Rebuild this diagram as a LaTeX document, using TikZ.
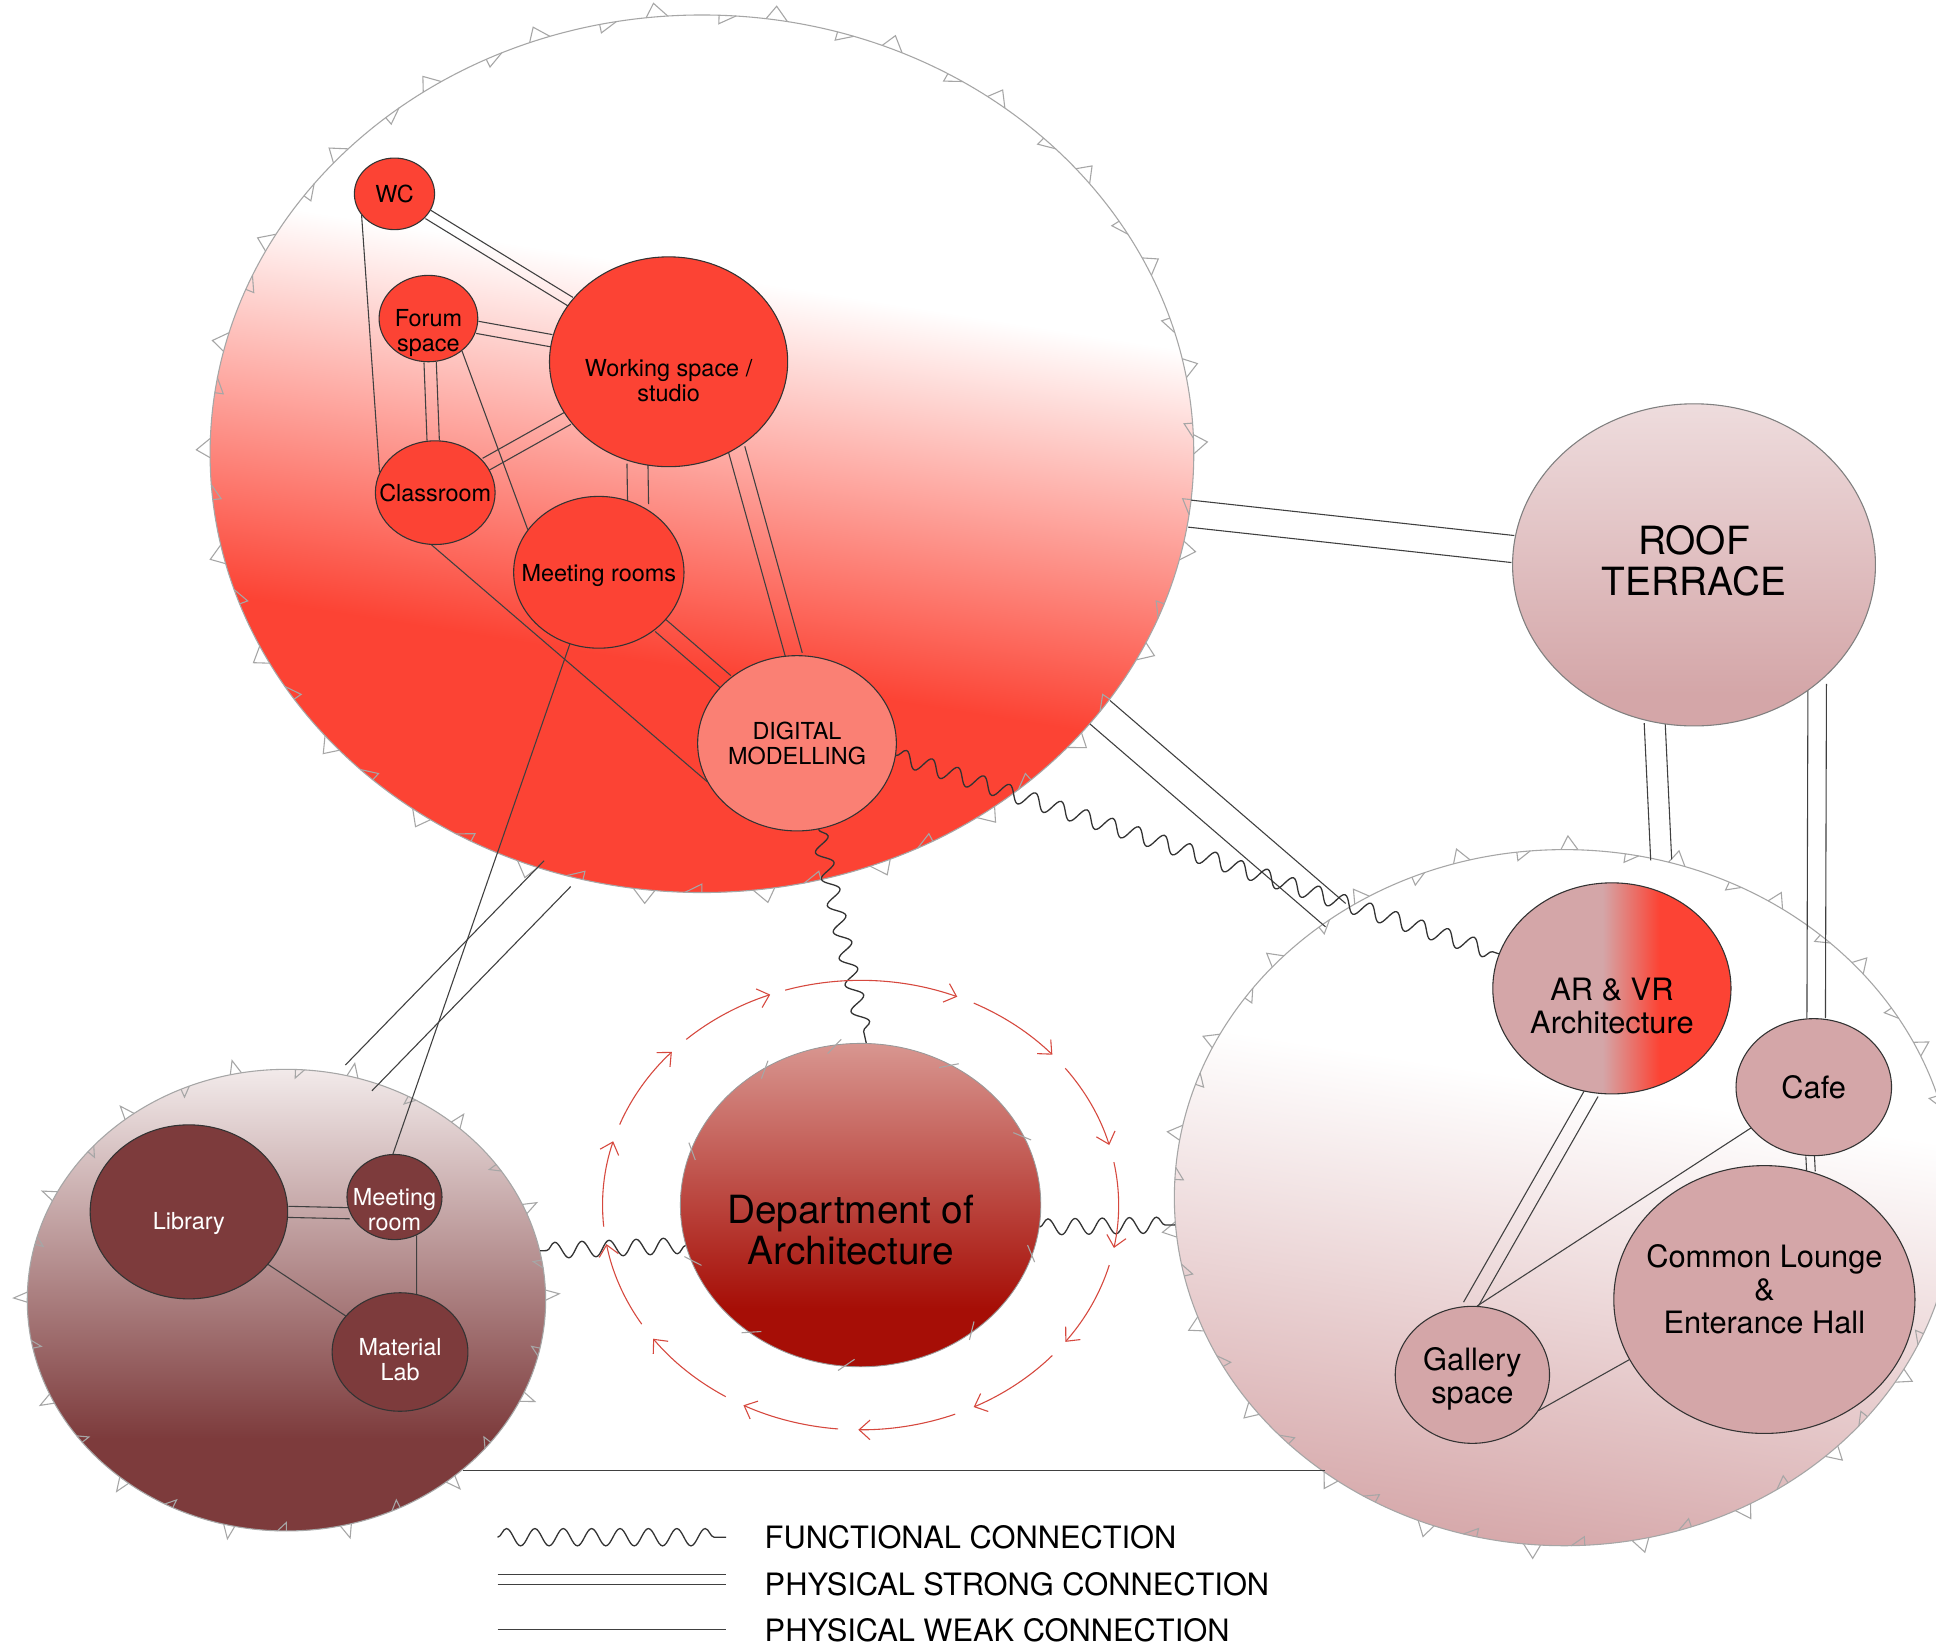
\documentclass[tikz,border=0pt]{standalone}
\usepackage{fontspec}
\setmainfont{TeX Gyre Heros}
\usetikzlibrary{shapes.geometric,calc,decorations.pathmorphing,decorations.pathreplacing,arrows.meta}

\definecolor{roomred}{RGB}{252,67,52}
\definecolor{dmpink}{RGB}{250,128,116}
\definecolor{pinkroom}{RGB}{212,166,168}
\definecolor{rooftop}{RGB}{238,220,221}
\definecolor{clpink}{RGB}{214,168,170}
\definecolor{libmaroon}{RGB}{125,59,60}
\definecolor{libtop}{RGB}{242,234,234}
\definecolor{deptdark}{RGB}{166,14,6}
\definecolor{depttop}{RGB}{216,150,144}
\definecolor{ringred}{RGB}{214,72,62}

\pgfdeclareverticalshading{redfade}{100bp}{color(0bp)=(roomred); color(38bp)=(roomred); color(60bp)=(white); color(100bp)=(white)}
\pgfdeclareverticalshading{pinkfade}{100bp}{color(0bp)=(clpink); color(25bp)=(clpink); color(58bp)=(white); color(100bp)=(white)}
\pgfdeclareverticalshading{libfade}{100bp}{color(0bp)=(libmaroon); color(35bp)=(libmaroon); color(75bp)=(libtop); color(100bp)=(libtop)}
\pgfdeclareverticalshading{deptfade}{100bp}{color(0bp)=(deptdark); color(34bp)=(deptdark); color(75bp)=(depttop); color(100bp)=(depttop)}
\pgfdeclareverticalshading{rooffade}{100bp}{color(0bp)=(pinkroom); color(30bp)=(pinkroom); color(75bp)=(rooftop); color(100bp)=(rooftop)}
\pgfdeclarehorizontalshading{arvrfade}{100bp}{color(0bp)=(pinkroom); color(48bp)=(pinkroom); color(60bp)=(roomred); color(100bp)=(roomred)}

\pgfdeclarelayer{bg}
\pgfdeclarelayer{mid}
\pgfsetlayers{bg,mid,main}

\tikzset{
  radii/.style 2 args={minimum width=#1*0.04cm, minimum height=#2*0.04cm},
  cluster/.style={ellipse, draw=black!35, line width=0.5pt, inner sep=0pt, shade},
  room/.style={ellipse, draw=black!80, line width=0.5pt, inner sep=0pt, fill=roomred},
  pub/.style={room, fill=pinkroom},
  lib/.style={room, fill=libmaroon},
  roomtxt/.style={font=\fontsize{10.8}{11.6}\selectfont, align=center, inner sep=0pt},
  hubtxt/.style={font=\fontsize{14.2}{15.2}\selectfont, align=center, inner sep=0pt},
  bigtxt/.style={font=\fontsize{17.9}{19}\selectfont, align=center, inner sep=0pt},
  legtxt/.style={font=\fontsize{14.2}{15.2}\selectfont, inner sep=0pt, anchor=west},
  notch/.style={draw=black!35, line width=0.5pt},
  weak/.style={draw=black!75, line width=0.5pt},
  strong/.style={decorate, decoration={show path construction, lineto code={
      \draw[weak] ($(\tikzinputsegmentfirst)!#1!90:(\tikzinputsegmentlast)$) -- ($(\tikzinputsegmentlast)!#1!-90:(\tikzinputsegmentfirst)$);
      \draw[weak] ($(\tikzinputsegmentfirst)!#1!-90:(\tikzinputsegmentlast)$) -- ($(\tikzinputsegmentlast)!#1!90:(\tikzinputsegmentfirst)$);}}},
  strong/.default=0.09cm,
  func/.style={draw=black!80, line width=0.6pt, decorate, decoration={snake, amplitude=0.13cm, segment length=0.44cm}},
  ring/.style={draw=ringred, line width=0.5pt, -{Straight Barb[length=5pt,width=9pt]}}
}

% small spikes and steps on the zone outlines
\newcommand{\notches}[4]{%
  \foreach \a in {0,#4,...,359}{
    \draw[notch] ($(#1)+(\a-2.5:#2 and #3)$) -- ($(#1)+(\a-1.5:#2+11 and #3+11)$) -- ($(#1)+(\a:#2 and #3)$);
    \draw[notch] ($(#1)+(\a+0.5*#4-1:#2 and #3)$) -- ($(#1)+(\a+0.5*#4-1:#2-7 and #3-7)$) -- ($(#1)+(\a+0.5*#4+1:#2 and #3)$);}}

\begin{document}
\begin{tikzpicture}[x=0.02cm, y=-0.02cm]
  \useasboundingbox (0,0) rectangle (1568,1332);
  % zones
  \begin{pgfonlayer}{bg}
    \fill[white] (0,0) rectangle (1568,1332);
    \node[cluster, radii={398.5}{355.5}, shading=redfade, shading angle=-9] (rc) at (568.5,367.5) {};
    \node[cluster, radii={316}{282}, shading=pinkfade, shading angle=-9] (xc) at (1267,970) {};
    \node[cluster, radii={210}{187}, shading=libfade] (lc) at (232,1053) {};
    \notches{rc}{398.5}{355.5}{14}
    \notches{xc}{316}{282}{16}
    \notches{lc}{210}{187}{26}
  \end{pgfonlayer}
  % studio wing
  \node[room, radii={32.5}{29}, label={[roomtxt]center:WC}] (wc) at (319.5,157) {};
  \node[room, radii={40}{35}, label={[roomtxt, yshift=-0.24cm]center:Forum\\space}] (forum) at (347,258) {};
  \node[room, radii={96.5}{85}, label={[roomtxt, yshift=-0.3cm]center:Working space /\\studio}] (studio) at (541.5,293) {};
  \node[room, radii={48.5}{42}, label={[roomtxt]center:Classroom}] (class) at (352.5,399) {};
  \node[room, radii={69}{61.5}, label={[roomtxt, yshift=-0.05cm]center:Meeting rooms}] (meet) at (485,463.5) {};
  \node[room, fill=dmpink, radii={80.5}{71}, label={[roomtxt]center:DIGITAL\\MODELLING}] (dm) at (645.5,602) {};
  % roof and public wing
  \node[pub, draw=black!50, shade, shading=rooffade, radii={147}{130.5}, label={[bigtxt, yshift=0.07cm]center:ROOF\\TERRACE}] (roof) at (1372,457.5) {};
  \node[pub, shade, shading=arvrfade, radii={96.5}{85.5}, label={[hubtxt, yshift=-0.28cm]center:AR \& VR\\Architecture}] (arvr) at (1305.5,800.5) {};
  \node[pub, radii={63}{55.5}, label={[hubtxt]center:Cafe}] (cafe) at (1469,880.5) {};
  \node[pub, radii={122}{108.5}, label={[hubtxt, yshift=0.16cm]center:Common Lounge\\\&\\Enterance Hall}] (lounge) at (1429,1052.5) {};
  \node[pub, radii={62.5}{55.5}, label={[hubtxt, yshift=-0.06cm]center:Gallery\\space}] (gallery) at (1192.5,1113.5) {};
  % library wing
  \node[lib, radii={80}{70.5}, label={[roomtxt, text=white, yshift=-0.19cm]center:Library}] (library) at (153,981.5) {};
  \node[lib, radii={38.5}{34.5}, label={[roomtxt, text=white, yshift=-0.2cm]center:Meeting\\room}] (mroom) at (319.5,969.5) {};
  \node[lib, radii={55}{48}, label={[roomtxt, text=white, yshift=-0.12cm]center:Material\\Lab}] (lab) at (324,1095) {};
  % department
  \node[ellipse, inner sep=0pt, draw=black!40, shade, shading=deptfade, radii={146}{131}, label={[bigtxt, xshift=-0.16cm, yshift=-0.4cm]center:Department of\\Architecture}] (dept) at (697,976) {};
  \foreach \a in {18,52,95,128,160,200,238,262,300,335}
    \draw[notch] ($(dept)+(\a-3:140 and 125)$) -- ($(dept)+(\a+2:150 and 135)$);
  \begin{pgfonlayer}{mid}
    % physical strong
    \path[strong=0.08cm] (wc) -- (studio);
    \path[strong=0.1cm] (forum) -- (studio);
    \path[strong=0.1cm] (forum) -- (class);
    \path[strong=0.11cm] (class) -- (studio);
    \path[strong=0.17cm] (studio.253.1) -- (meet.60.1);
    \path[strong=0.14cm] (studio.-52.7) -- (dm.92);
    \path[strong=0.13cm] (meet) -- (dm);
    \path[strong=0.22cm] (rc.-7.3) -- (roof.175.7);
    \path[strong=0.3cm] (rc.251.8) -- (lc.72);
    \path[strong=0.25cm] (rc.-33.1) -- (xc.129.8);
    \path[strong=0.17cm] (roof.256.6) -- (xc.74.8);
    \path[strong=0.15cm] (roof.-44.5) -- (cafe.88.6);
    \path[strong=0.07cm] (cafe.267.4) -- (lounge.70);
    \path[strong=0.12cm] (arvr.259.6) -- (gallery.92.6);
    \path[strong=0.09cm] (library.0) -- (mroom.200);
    % physical weak
    \draw[weak] (wc.213) -- (class.160);
    \draw[weak] (forum.-44) -- (meet.149.6);
    \draw[weak] (class.266.6) -- (dm.203);
    \draw[weak] (meet.248.4) -- (mroom.92.5);
    \draw[weak] (cafe.213.3) -- (gallery.86.3);
    \draw[weak] (gallery.-28) -- (lounge.204.4);
    \draw[weak] (library) -- (lab);
    \draw[weak] (mroom.-60.3) -- (lab.74.4);
    \draw[weak] (lc.-44) -- (lc.-44 -| xc.229.4);
    % functional
    \draw[func] (dm.-7) -- (arvr.163.6);
    \draw[func] (dm.-76) -- (dept.88.7);
    \draw[func] (dept.193.2) -- (lc.11.3);
    \draw[func] (dept.-7.5) -- (xc.184.2);
    % ring of arrows round the department
    \draw[ring] ($(dept)+(253:209 and 182)$) arc[start angle=253, end angle=292, x radius=209, y radius=182];
    \foreach \k in {0,...,11}{
      \pgfmathsetmacro\s{296+26.5*\k}
      \pgfmathsetmacro\e{\s+22}
      \draw[ring] ($(dept)+(\s:209 and 182)$) arc[start angle=\s, end angle=\e, x radius=209, y radius=182];
    }
  \end{pgfonlayer}
  % legend
  \coordinate (lfa) at (403,1245); \coordinate (lfb) at (588,1245);
  \coordinate (lsa) at (403,1279); \coordinate (lsb) at (588,1279);
  \coordinate (lwa) at (403,1320); \coordinate (lwb) at (588,1320);
  \draw[func, decoration={amplitude=0.14cm, segment length=0.46cm}] (lfa) -- (lfb);
  \path[strong=0.08cm] (lsa) -- (lsb);
  \draw[weak] (lwa) -- (lwb);
  \node[legtxt] (lf) at (619,1245) {FUNCTIONAL CONNECTION};
  \node[legtxt] (ls) at (619,1283) {PHYSICAL STRONG CONNECTION};
  \node[legtxt] (lw) at (619,1320) {PHYSICAL WEAK CONNECTION};
\end{tikzpicture}
\end{document}
